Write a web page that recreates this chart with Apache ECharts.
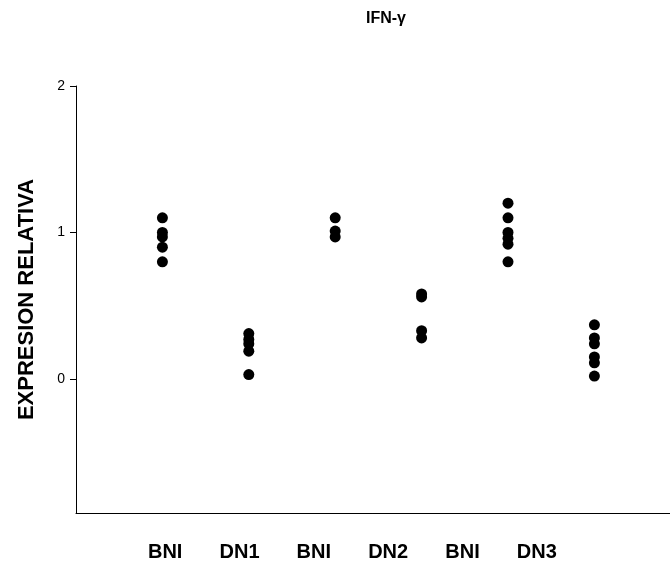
<!DOCTYPE html>
<html>
<head>
<meta charset="utf-8">
<script src="https://cdn.jsdelivr.net/npm/echarts@6/dist/echarts.min.js"></script>
<style>html,body{margin:0;padding:0;background:#fff;}#c{width:670px;height:565px;}</style>
</head>
<body>
<div id="c"></div>
<script>
const title = 'IFN-γ';
const yName = 'EXPRESION RELATIVA';
const groupLabels = ['BNI', 'DN1', 'BNI', 'DN2', 'BNI', 'DN3'];
const groupPos = [1, 2, 3, 4, 5, 6];
const bni1 = [1.1, 1.0, 0.97, 0.9, 0.8];
const dn1 = [0.31, 0.27, 0.24, 0.19, 0.03];
const bni2 = [1.1, 1.01, 0.97];
const dn2 = [0.58, 0.56, 0.33, 0.28];
const bni3 = [1.2, 1.1, 1.0, 0.96, 0.92, 0.8];
const dn3 = [0.37, 0.28, 0.24, 0.15, 0.11, 0.02];
const yTicks = [0, 1, 2];

const groups = [bni1, dn1, bni2, dn2, bni3, dn3];
const points = [];
groups.forEach((g, i) => g.forEach(v => points.push([groupPos[i], v])));

const chart = echarts.init(document.getElementById('c'));
chart.setOption({
  animation: false,
  backgroundColor: '#fff',
  textStyle: { fontFamily: 'Liberation Sans, Arial, sans-serif' },
  graphic: [{
    type: 'text', left: 366, top: 11,
    style: { text: title, font: 'bold 16px "Liberation Sans", Arial, sans-serif', fill: '#000' }
  }],
  grid: [
    { left: 76, right: 0, top: 86, bottom: 52 },
    { left: 128, right: 96, top: 86, bottom: 52 }
  ],
  xAxis: [{
    type: 'value', gridIndex: 0, min: 0, max: 6.875,
    axisLine: { show: true, onZero: false, lineStyle: { color: '#000', width: 1 } },
    axisTick: { show: false }, axisLabel: { show: false }, splitLine: { show: false }
  }, {
    type: 'category', gridIndex: 1, data: groupLabels,
    axisLine: { show: false }, axisTick: { show: false }, splitLine: { show: false },
    axisLabel: { margin: 29, color: '#000', fontWeight: 'bold', fontSize: 20, fontFamily: 'Liberation Sans, Arial, sans-serif' }
  }],
  yAxis: [{
    type: 'value', gridIndex: 0, min: -0.915, max: 2,
    name: yName, nameLocation: 'middle', nameGap: 38, nameRotate: 90,
    nameTextStyle: { color: '#000', fontWeight: 'bold', fontSize: 22, fontFamily: 'Liberation Sans, Arial, sans-serif' },
    axisLine: { show: true, onZero: false, lineStyle: { color: '#000', width: 1 } },
    axisTick: { show: true, length: 6, customValues: yTicks, lineStyle: { color: '#000' } },
    axisLabel: { show: true, customValues: yTicks, color: '#000', fontSize: 14, margin: 11 },
    splitLine: { show: false }
  }, {
    type: 'value', gridIndex: 1, min: 0, max: 1, show: false
  }],
  series: [{
    type: 'scatter', xAxisIndex: 0, yAxisIndex: 0,
    data: points, symbol: 'circle', symbolSize: 11,
    itemStyle: { color: '#000', opacity: 1 }
  }]
});
</script>
</body>
</html>
